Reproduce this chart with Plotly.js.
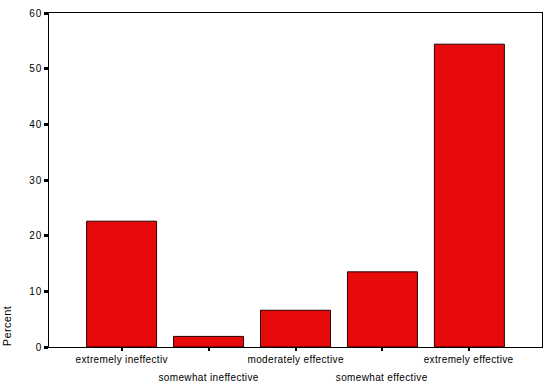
<!DOCTYPE html>
<html><head><meta charset="utf-8">
<script src="https://cdn.plot.ly/plotly-3.0.1.min.js"></script>
<style>html,body{margin:0;padding:0;background:#fff}#chart{width:556px;height:384px}
#chart .annotation-text{letter-spacing:0.35px}
#chart .ytick text{letter-spacing:0.8px}</style>
</head><body><div id="chart"></div>
<script>
var categories = ["extremely ineffectiv", "somewhat ineffective", "moderately effective", "somewhat effective", "extremely effective"];
var percents = [22.6, 1.9, 6.6, 13.5, 54.4];
var yTicks = [0, 10, 20, 30, 40, 50, 60];

var xIdx = categories.map(function(c, i){ return i; });
var annotations = categories.map(function(c, i){
  return {x: i, xref: 'x', y: 0, yref: 'paper', yanchor: 'top', xanchor: 'center',
          yshift: (i % 2 === 0) ? -5 : -23, text: c, showarrow: false,
          font: {family: 'Liberation Sans, Arial, sans-serif', size: 10, color: '#000'}};
});
annotations.push({x: 0, xref: 'paper', xshift: -42, y: 0, yref: 'paper', xanchor: 'center', yanchor: 'bottom',
  text: 'Percent', textangle: -90, showarrow: false,
  font: {family: 'Liberation Sans, Arial, sans-serif', size: 11, color: '#000'}});

var data = [{
  type: 'bar', x: xIdx, y: percents,
  marker: {color: '#E60A0A', line: {color: '#2a0000', width: 1}},
  width: 0.805, hoverinfo: 'none'
}];
var layout = {
  width: 556, height: 384,
  margin: {l: 49, r: 14, t: 13, b: 37},
  paper_bgcolor: '#fff', plot_bgcolor: '#fff',
  showlegend: false,
  xaxis: {range: [-0.835, 4.835], tickvals: xIdx, ticktext: categories.map(function(){return '';}),
    showticklabels: false, ticks: 'outside', ticklen: 3, tickwidth: 2, tickcolor: '#000',
    showline: true, linecolor: '#000', linewidth: 1, mirror: true, showgrid: false, zeroline: false, fixedrange: true},
  yaxis: {range: [0, 60], tickvals: yTicks, ticks: 'outside', ticklen: 4, tickwidth: 3, tickcolor: '#000',
    showline: true, linecolor: '#000', linewidth: 1, mirror: true, showgrid: false, zeroline: false,
    tickfont: {family: 'Liberation Sans, Arial, sans-serif', size: 10, color: '#000'}, fixedrange: true},
  annotations: annotations
};
Plotly.newPlot('chart', data, layout, {displayModeBar: false, staticPlot: true});
</script></body></html>
